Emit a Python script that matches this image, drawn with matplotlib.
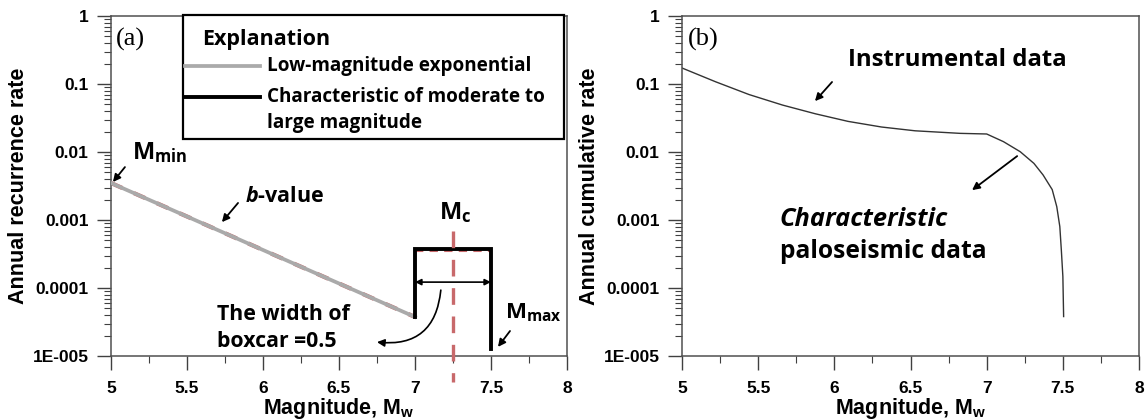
import matplotlib
matplotlib.use("Agg")
import matplotlib.pyplot as plt
from matplotlib.patches import Rectangle
from matplotlib.lines import Line2D

plt.rcParams['mathtext.fontset'] = 'custom'
plt.rcParams['mathtext.bf'] = 'Open Sans:bold'
plt.rcParams['mathtext.it'] = 'Open Sans:bold:italic'
plt.rcParams['mathtext.sf'] = 'Liberation Sans:bold'

# ---- data (panel a) ----
gr_mag = [5.0, 7.0]                    # low-magnitude exponential
gr_rate = [0.0035, 0.0000375]
box_mag = [7.0, 7.0, 7.5, 7.5]         # boxcar characteristic part
box_rate = [0.0000375, 0.000375, 0.000375, 0.0000127]
box_dash_mag = [7.0, 7.5]
box_dash_rate = [0.00035, 0.00035]
mc_mag = [7.25, 7.25]
mc_rate = [0.00069, 0.0000042]

# ---- data (panel b) ----
cum_mag = [5.0, 5.22, 5.44, 5.66, 5.875, 6.09, 6.31, 6.53, 6.825, 7.0,
           7.11, 7.22, 7.31, 7.37, 7.43, 7.46, 7.48, 7.49, 7.5, 7.505]
cum_rate = [0.172, 0.108, 0.070, 0.049, 0.0365, 0.0282, 0.0233, 0.0205,
            0.0188, 0.0184, 0.0142, 0.0101, 0.0068, 0.0046, 0.0028, 0.00157,
            0.0008, 0.00036, 0.000148, 0.000038]

yticks = [1e-5, 1e-4, 1e-3, 1e-2, 1e-1, 1]
ytick_labels = ['1E-005', '0.0001', '0.001', '0.01', '0.1', '1']
xticks = [5, 5.5, 6, 6.5, 7, 7.5, 8]
xtick_labels = ['5', '5.5', '6', '6.5', '7', '7.5', '8']

ANN = dict(family='Open Sans', fontweight='bold')
TICKF = dict(family='Liberation Sans', fontweight='bold')
RED = '#c8696b'
ARROW = dict(arrowstyle='-|>', color='black', lw=1.3, mutation_scale=11,
             shrinkA=0, shrinkB=0)

fig = plt.figure(figsize=(11.45, 4.19), dpi=100)
axa = fig.add_axes([0.0969, 0.1504, 0.3983, 0.8114])
axb = fig.add_axes([0.5956, 0.1504, 0.3992, 0.8114])


def style_axes(ax, ylabel):
    ax.set_yscale('log')
    ax.set_xlim(5, 8)
    ax.set_ylim(1e-5, 1)
    ax.set_yticks(yticks)
    ax.set_yticklabels(ytick_labels, **TICKF)
    ax.set_xticks(xticks)
    ax.set_xticklabels(xtick_labels, **TICKF)
    ax.set_xticks([5.25, 5.75, 6.25, 6.75, 7.25, 7.75], minor=True)
    ax.tick_params(axis='both', which='major', direction='out', length=10,
                   width=1, color='#404040', labelsize=12.5)
    ax.tick_params(axis='y', which='major', pad=6)
    ax.tick_params(axis='x', which='major', pad=8)
    ax.tick_params(axis='both', which='minor', direction='out', length=5,
                   width=0.8, color='#404040')
    for s in ax.spines.values():
        s.set_color('#505050')
        s.set_linewidth(1.1)
    ax.set_xlabel(r'Magnitude, M$_\mathsf{w}$', **TICKF, fontsize=15.5,
                  labelpad=0)
    ax.set_ylabel(ylabel, **TICKF, fontsize=15.5, labelpad=3)


style_axes(axa, 'Annual recurrence rate')
style_axes(axb, 'Annual cumulative rate')

# ---- panel (a) ----
axa.plot(gr_mag, gr_rate, color=RED, lw=3.0, ls=(0, (3, 3)), zorder=2)
axa.plot(gr_mag, gr_rate, color='#aaaaaa', lw=2.7, zorder=3)
axa.plot(box_mag, box_rate, color='black', lw=2.8, zorder=3,
         solid_joinstyle='miter')
axa.plot(box_dash_mag, box_dash_rate, color=RED, lw=1.5, ls=(0, (4, 3)),
         zorder=2)
axa.plot(mc_mag, mc_rate, color=RED, lw=2.4, ls=(0, (5, 3.5)), zorder=4,
         clip_on=False)

axa.text(5.03, 0.45, '(a)', family='Liberation Serif', fontsize=19,
         ha='left', va='center')
axa.text(5.14, 0.0097, r'$\mathbf{M}_\mathbf{min}$', fontsize=17,
         ha='left', va='center')
axa.annotate('', xy=(5.013, 0.00362), xytext=(5.092, 0.0060),
             arrowprops=ARROW)
axa.text(5.88, 0.00225, r'$\mathit{b}$-value', **ANN, fontsize=15.5,
         ha='left', va='center')
axa.annotate('', xy=(5.73, 0.00093), xytext=(5.836, 0.00178),
             arrowprops=ARROW)
axa.text(7.16, 0.00127, r'$\mathbf{M}_\mathbf{c}$', fontsize=17,
         ha='left', va='center')
axa.text(7.59, 0.000044, r'$\mathbf{M}_\mathbf{max}$', fontsize=16,
         ha='left', va='center')
axa.annotate('', xy=(7.546, 0.0000136), xytext=(7.625, 0.0000233),
             arrowprops=ARROW)
axa.text(5.70, 0.0000258, 'The width of\nboxcar =0.5', **ANN, fontsize=15.3,
         ha='left', va='center', linespacing=1.35)
axa.annotate('', xy=(7.0, 0.000122), xytext=(7.5, 0.000122),
             arrowprops=dict(arrowstyle='<|-|>', color='black', lw=1.2,
                             mutation_scale=9, shrinkA=0, shrinkB=0))
axa.annotate('', xy=(6.75, 0.000016), xytext=(7.17, 0.000093),
             arrowprops=dict(arrowstyle='-|>', color='black', lw=1.2,
                             mutation_scale=11, shrinkA=0, shrinkB=0,
                             connectionstyle='arc3,rad=-0.5'))

# explanation box
axa.add_patch(Rectangle((0.158, 0.638), 0.835, 0.365, transform=axa.transAxes,
                        facecolor='white', edgecolor='black', lw=1.6,
                        zorder=5, clip_on=False))
axa.text(0.2, 0.932, 'Explanation', transform=axa.transAxes, **ANN,
         fontsize=15.5, ha='left', va='center', zorder=6)
axa.add_line(Line2D([0.162, 0.327], [0.853, 0.853], transform=axa.transAxes,
                    color='#aaaaaa', lw=2.7, zorder=6))
axa.add_line(Line2D([0.162, 0.327], [0.762, 0.762], transform=axa.transAxes,
                    color='black', lw=2.8, zorder=6))
axa.text(0.342, 0.853, 'Low-magnitude exponential', transform=axa.transAxes,
         **ANN, fontsize=13.6, ha='left', va='center', zorder=6)
axa.text(0.342, 0.762, 'Characteristic of moderate to',
         transform=axa.transAxes, **ANN, fontsize=13.6, ha='left',
         va='center', zorder=6)
axa.text(0.342, 0.685, 'large magnitude', transform=axa.transAxes, **ANN,
         fontsize=13.6, ha='left', va='center', zorder=6)

# ---- panel (b) ----
axb.plot(cum_mag, cum_rate, color='#333333', lw=1.0)
axb.text(5.04, 0.45, '(b)', family='Liberation Serif', fontsize=19,
         ha='left', va='center')
axb.text(6.09, 0.225, 'Instrumental data', **ANN, fontsize=17.2,
         ha='left', va='center')
axb.annotate('', xy=(5.873, 0.056), xytext=(5.985, 0.107), arrowprops=ARROW)
axb.text(5.643, 0.001, 'Characteristic', family='Open Sans',
         fontweight='bold', style='italic', fontsize=18.3, ha='left',
         va='center')
axb.text(5.643, 0.00034, 'paloseismic data', **ANN, fontsize=17.7,
         ha='left', va='center')
axb.annotate('', xy=(6.904, 0.00275), xytext=(7.2, 0.0087), arrowprops=ARROW)

fig.savefig('out.png', dpi=100)
